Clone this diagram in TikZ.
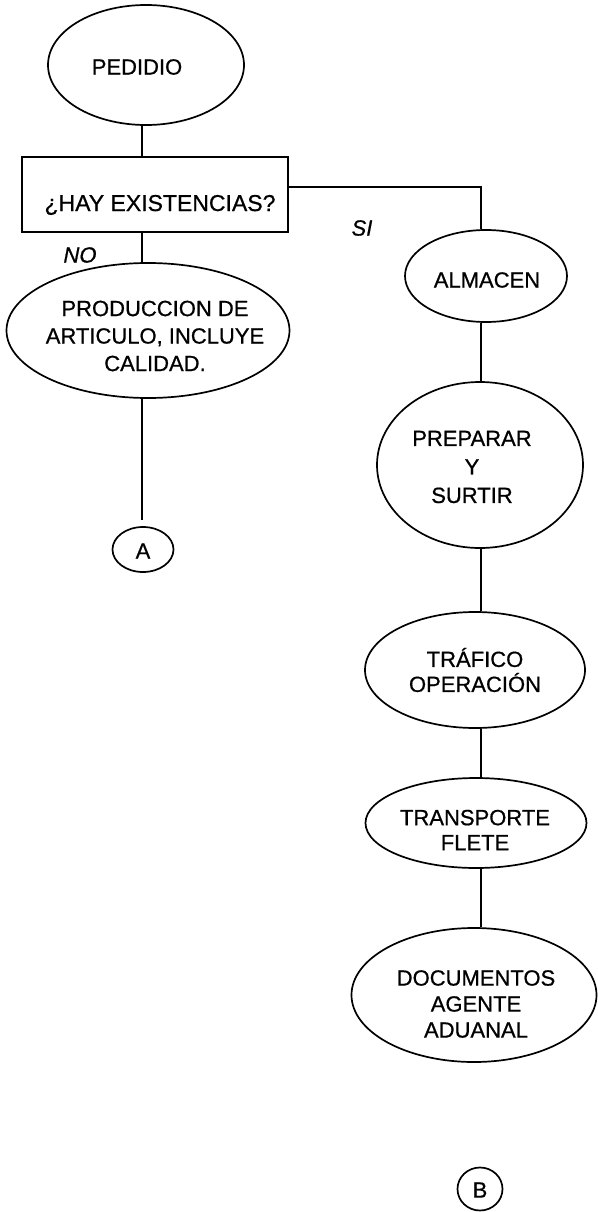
\documentclass[tikz,border=0pt]{standalone}
\usepackage{fontspec}
\setmainfont{Liberation Sans}[FakeBold=0.7]
\usetikzlibrary{shapes.geometric}
\begin{document}
\begin{tikzpicture}[x=1pt,y=-1pt,
  oval/.style={ellipse, draw, line width=1.7pt, inner sep=0pt},
  boxst/.style={rectangle, draw, line width=1.7pt, inner sep=0pt},
  txt/.style={inner sep=0pt, font=\fontsize{22}{26}\selectfont, align=center},
  lbl/.style={inner sep=0pt, font=\fontsize{22}{26}\selectfont\itshape},
  conn/.style={line width=1.7pt}]
\useasboundingbox (0,0) rectangle (597,1212);
% left column
\node[oval, minimum width=196pt, minimum height=120pt] (pedido) at (146,65) {};
\node[txt] (pedidot) at (137,67) {PEDIDIO};
\node[boxst, minimum width=266pt, minimum height=75pt] (box) at (155,194.5) {};
\node[txt, font=\fontsize{23}{27}\selectfont, text depth=0pt] (boxt) at (160,203) {¿HAY EXISTENCIAS?};
\node[lbl] (no) at (80,255) {NO};
\node[lbl] (si) at (362,228) {SI};
\node[oval, minimum width=283pt, minimum height=135pt] (prod) at (148,330.5) {};
\node[txt, font=\fontsize{22}{27.5}\selectfont] (prodt) at (155,336) {PRODUCCION DE\\ARTICULO, INCLUYE\\CALIDAD.};
\node[oval, minimum width=61pt, minimum height=45pt] (a) at (143,549.5) {};
\node[txt] (atxt) at (143,551) {A};
% right column
\node[oval, minimum width=162pt, minimum height=92pt] (alm) at (486,276) {};
\node[txt] (almt) at (487,280) {ALMACEN};
\node[oval, minimum width=206pt, minimum height=166pt] (prep) at (480,465) {};
\node[txt, font=\fontsize{22}{28.5}\selectfont] (prept) at (472,467) {PREPARAR\\Y\\SURTIR};
\node[oval, minimum width=220pt, minimum height=116pt] (traf) at (475,670) {};
\node[txt, font=\fontsize{22}{25}\selectfont] (traft) at (475,670) {TRÁFICO\\OPERACIÓN};
\node[oval, minimum width=221pt, minimum height=90pt] (trans) at (476,823) {};
\node[txt, font=\fontsize{22}{25}\selectfont] (transt) at (475,830) {TRANSPORTE\\FLETE};
\node[oval, minimum width=245pt, minimum height=134pt] (doc) at (474,995) {};
\node[txt] (doct) at (476,1004) {DOCUMENTOS\\AGENTE\\ADUANAL};
\node[oval, minimum width=45pt, minimum height=43pt] (b) at (480,1189) {};
\node[txt] (btxt) at (480,1190) {B};
% helper coordinates
\coordinate (cl) at (142,0);
\coordinate (cr) at (481,0);
\coordinate (hy) at (0,187);
\coordinate (aend) at (142,520);
% connectors
\draw[conn] (pedido.south -| cl) -- (box.north -| cl);
\draw[conn] (box.south -| cl) -- (prod.north -| cl);
\draw[conn] (prod.south -| cl) -- (aend);
\draw[conn] (box.east |- hy) -| (alm.north -| cr);
\draw[conn] (alm.south -| cr) -- (prep.north -| cr);
\draw[conn] (prep.south -| cr) -- (traf.north -| cr);
\draw[conn] (traf.south -| cr) -- (trans.north -| cr);
\draw[conn] (trans.south -| cr) -- (doc.north -| cr);
\end{tikzpicture}
\end{document}
